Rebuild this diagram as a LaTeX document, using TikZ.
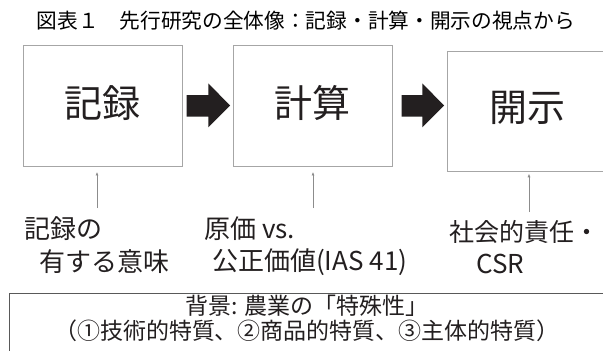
\documentclass[tikz,border=0pt]{standalone}
\usepackage{fontspec}
\newfontfamily\cjk{Noto Sans CJK JP}
\usetikzlibrary{arrows.meta}
\definecolor{boxgray}{HTML}{A6A6A6}
\definecolor{framegray}{HTML}{595959}
\definecolor{inkc}{HTML}{231F20}
\definecolor{conngray}{HTML}{8C8C8C}
\begin{document}
\begin{tikzpicture}[x=1pt,y=-1pt,
  stagebox/.style={draw=boxgray, line width=0.9pt, inner sep=0pt, fill=white},
  stagetext/.style={font=\cjk\fontsize{38}{40}\selectfont, text=inkc, inner sep=0pt},
  labeltext/.style={font=\cjk\fontsize{26}{30}\selectfont, text=inkc, inner sep=0pt, anchor=west},
  titletext/.style={font=\cjk\fontsize{20.7}{24}\selectfont, text=black, inner sep=0pt},
  bgframe/.style={draw=framegray, line width=0.9pt, inner sep=0pt},
  bgtext/.style={font=\cjk\fontsize{23}{25}\selectfont, text=inkc, inner sep=0pt, align=center},
  conn/.style={draw=conngray, line width=0.8pt, -{Latex[length=3.5pt,width=3pt]}},
  blockarrow/.style={fill=inkc, draw=none}]
\useasboundingbox (0,0) rectangle (603,351);
\clip (0,0) rectangle (603,351);
\fill[white] (0,0) rectangle (603,351);

% title
\node[titletext] (title) at (306,20.8) {図表１　先行研究の全体像：記録・計算・開示の視点から};

% stage boxes
\node[stagebox, minimum width=159pt, minimum height=121pt] (box1) at (102.5,105.5) {};
\node[stagebox, minimum width=159pt, minimum height=121pt] (box2) at (312.5,105.5) {};
\node[stagebox, minimum width=173pt, minimum height=120pt] (box3) at (533.5,111) {};

\node[stagetext] (txt1) at (102.5,103.3) {記録};
\node[stagetext] (txt2) at (312.5,103.3) {計算};
\node[stagetext] (txt3) at (527.5,108.3) {開示};

% block arrows
\fill[blockarrow] (186.7,95) -- (208.3,95) -- (208.3,83.3) -- (230,105.5)
  -- (208.3,127.3) -- (208.3,116.7) -- (186.7,116.7) -- cycle;
\fill[blockarrow] (401.7,95) -- (422.3,95) -- (422.3,83.3) -- (444,105.5)
  -- (422.3,127.3) -- (422.3,116.7) -- (401.7,116.7) -- cycle;

% labels
\node[labeltext] (lab1a) at (24,229) {記録の};
\node[labeltext] (lab1b) at (39,262) {有する意味};
\node[labeltext] (lab2a) at (204,229) {原価 vs.};
\node[labeltext] (lab2b) at (212,262) {公正価値(IAS 41)};
\node[labeltext, font=\cjk\fontsize{25}{30}\selectfont] (lab3a) at (449,232) {社会的責任・};
\node[labeltext] (lab3b) at (476,264) {CSR};

% connectors
\coordinate (c1) at (97,208);
\coordinate (c2) at (313,208);
\coordinate (c3) at (529,212);
\draw[conn, shorten >=5.5pt] (c1) -- (c1 |- box1.south);
\draw[conn, shorten >=5.5pt] (c2) -- (c2 |- box2.south);
\draw[conn, shorten >=2.3pt] (c3) -- (c3 |- box3.south);

% background frame
\node[bgframe, minimum width=606pt, minimum height=67pt] (bg) at (312,326.5) {};
\node[bgtext] (bgt) at (307,318.5) {背景: 農業の「特殊性」\\（①技術的特質、②商品的特質、③主体的特質）};
\end{tikzpicture}
\end{document}
